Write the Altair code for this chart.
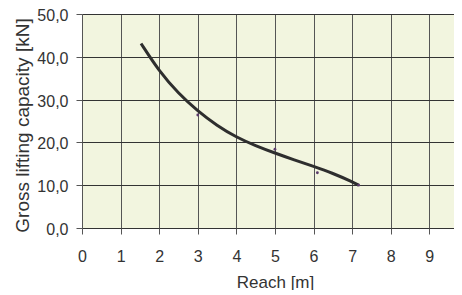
import altair as alt
import pandas as pd

curve_x = [1.53, 2.0, 2.5, 3.0, 3.5, 4.0, 4.5, 5.0, 5.5, 6.0, 6.5, 7.0, 7.17]
curve_y = [43.1, 36.6, 31.4, 27.3, 23.9, 21.2, 19.2, 17.5, 15.9, 14.4, 12.8, 10.8, 10.0]

pts_x = [3.0, 5.0, 6.1, 7.17]
pts_y = [26.4, 18.4, 12.9, 10.0]

x_ticks = [0, 1, 2, 3, 4, 5, 6, 7, 8, 9]
y_ticks = [0, 10, 20, 30, 40, 50]

curve = pd.DataFrame({"x": curve_x, "y": curve_y})
pts = pd.DataFrame({"x": pts_x, "y": pts_y})

font = "Liberation Sans"

def xenc():
    return alt.X("x:Q", scale=alt.Scale(domain=[0, 9.64], nice=False, zero=False),
                 axis=alt.Axis(values=x_ticks, title="Reach [m]", grid=True, gridColor="#555",
                               gridOpacity=1, domain=False, tickColor="#555", tickSize=6,
                               labelFontSize=16, labelColor="#333", labelFont=font,
                               labelBaseline="alphabetic", labelPadding=27,
                               labelOverlap=False, labelFlush=False,
                               titleFont=font, titleFontSize=17, titleFontWeight="normal",
                               titleColor="#333", titleBaseline="alphabetic",
                               titleX=193, titleY=59))

def yenc():
    return alt.Y("y:Q", scale=alt.Scale(domain=[0, 50], nice=False),
                 axis=alt.Axis(values=y_ticks, title="Gross lifting capacity [kN]", grid=True,
                               gridColor="#333", gridOpacity=1, domain=False, tickColor="#555",
                               tickSize=6, labelFontSize=16, labelColor="#333", labelFont=font,
                               labelPadding=8, labelOverlap=False, labelOffset=1.5,
                               labelExpr="replace(format(datum.value, '.1f'), '.', ',')",
                               titleFont=font, titleFontSize=19, titleFontWeight="normal",
                               titleColor="#333", titleX=-50, titleY=111))

line = alt.Chart(curve).mark_line(color="#2e2e2e", strokeWidth=3, interpolate="basis").encode(
    x=xenc(), y=yenc())
dots = alt.Chart(pts).mark_point(shape="circle", size=8, filled=True, opacity=1,
                                 color="#5b3b6b").encode(x=xenc(), y=yenc())

chart = (line + dots).properties(
    width=372, height=214,
    autosize=alt.AutoSizeParams(type="none"),
    padding={"left": 74, "top": 6, "right": 0, "bottom": 62},
    background="white",
).configure_view(fill="#f2f5df", stroke="transparent")

chart.save("out.html", embed_options={"renderer": "svg", "actions": False})
